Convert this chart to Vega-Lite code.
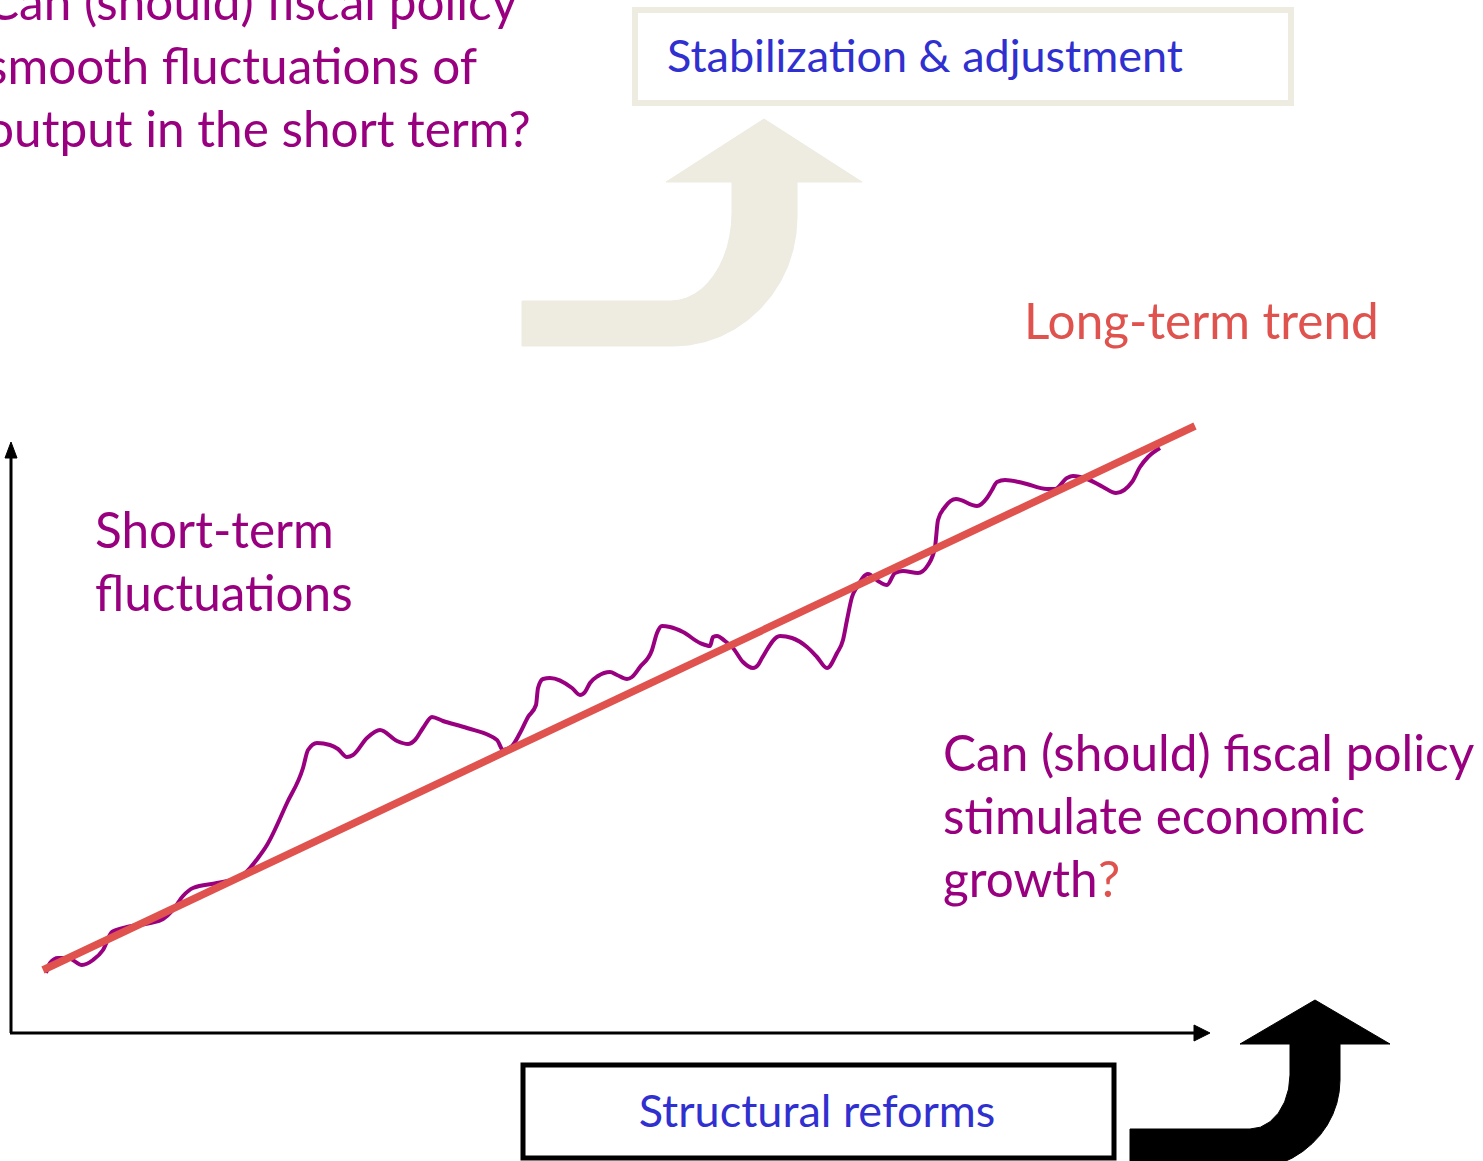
{
  "$schema": "https://vega.github.io/schema/vega-lite/v6.json",
  "width": 1483,
  "height": 1161,
  "autosize": {"type": "none"},
  "padding": 0,
  "background": "white",
  "config": {"view": {"stroke": null}},
  "datasets": {
    "beigeArrow": [
      {"i": 0, "x": 522, "y": 346}, {"i": 1, "x": 522, "y": 301}, {"i": 2, "x": 671, "y": 301},
      {"i": 3, "x": 679.0, "y": 300.2}, {"i": 4, "x": 686.8, "y": 298.0}, {"i": 5, "x": 694.3, "y": 294.3},
      {"i": 6, "x": 701.5, "y": 289.2}, {"i": 7, "x": 708.1, "y": 282.8}, {"i": 8, "x": 714.1, "y": 275.2},
      {"i": 9, "x": 719.4, "y": 266.6}, {"i": 10, "x": 723.8, "y": 257}, {"i": 11, "x": 727.4, "y": 246.7},
      {"i": 12, "x": 729.9, "y": 235.8}, {"i": 13, "x": 731.5, "y": 224.5}, {"i": 14, "x": 732, "y": 213},
      {"i": 15, "x": 732, "y": 182}, {"i": 16, "x": 666, "y": 182}, {"i": 17, "x": 764, "y": 119},
      {"i": 18, "x": 862, "y": 182}, {"i": 19, "x": 797, "y": 182}, {"i": 20, "x": 797, "y": 217},
      {"i": 21, "x": 795.9, "y": 233.8}, {"i": 22, "x": 792.8, "y": 250.4}, {"i": 23, "x": 787.6, "y": 266.4},
      {"i": 24, "x": 780.4, "y": 281.5}, {"i": 25, "x": 771.4, "y": 295.5}, {"i": 26, "x": 760.7, "y": 308.2},
      {"i": 27, "x": 748.5, "y": 319.3}, {"i": 28, "x": 735, "y": 328.7}, {"i": 29, "x": 720.5, "y": 336.2},
      {"i": 30, "x": 705.1, "y": 341.6}, {"i": 31, "x": 689.2, "y": 344.9}, {"i": 32, "x": 673, "y": 346},
      {"i": 33, "x": 522, "y": 346}
    ],
    "blackArrow": [
      {"i": 0, "x": 1130, "y": 1175}, {"i": 1, "x": 1130, "y": 1129}, {"i": 2, "x": 1250, "y": 1129},
      {"i": 3, "x": 1260.4, "y": 1127.2}, {"i": 4, "x": 1270, "y": 1121.8}, {"i": 5, "x": 1278.3, "y": 1113.2},
      {"i": 6, "x": 1284.6, "y": 1102}, {"i": 7, "x": 1288.6, "y": 1089}, {"i": 8, "x": 1290, "y": 1075},
      {"i": 9, "x": 1290, "y": 1044}, {"i": 10, "x": 1240, "y": 1044}, {"i": 11, "x": 1315, "y": 1000},
      {"i": 12, "x": 1390, "y": 1044}, {"i": 13, "x": 1340, "y": 1044}, {"i": 14, "x": 1340, "y": 1080},
      {"i": 15, "x": 1339.2, "y": 1091.7}, {"i": 16, "x": 1336.8, "y": 1103.3}, {"i": 17, "x": 1332.8, "y": 1114.4},
      {"i": 18, "x": 1327.3, "y": 1125}, {"i": 19, "x": 1320.4, "y": 1134.8}, {"i": 20, "x": 1312.2, "y": 1143.6},
      {"i": 21, "x": 1302.8, "y": 1151.4}, {"i": 22, "x": 1292.5, "y": 1157.9}, {"i": 23, "x": 1281.4, "y": 1163.1},
      {"i": 24, "x": 1269.6, "y": 1166.9}, {"i": 25, "x": 1245, "y": 1175}, {"i": 26, "x": 1130, "y": 1175}
    ],
    "yHead": [{"i": 0, "x": 5, "y": 458}, {"i": 1, "x": 11, "y": 442}, {"i": 2, "x": 17, "y": 458}, {"i": 3, "x": 5, "y": 458}],
    "xHead": [{"i": 0, "x": 1194, "y": 1025}, {"i": 1, "x": 1210, "y": 1033}, {"i": 2, "x": 1194, "y": 1041}, {"i": 3, "x": 1194, "y": 1025}],
    "axisLines": [
      {"x": 11, "y": 1033, "x2": 11, "y2": 456},
      {"x": 10, "y": 1033, "x2": 1196, "y2": 1033}
    ],
    "trend": [{"x": 43, "y": 970}, {"x": 1195, "y": 426}],
    "fluct": [
      {"x": 46, "y": 973}, {"x": 50, "y": 963}, {"x": 58, "y": 958}, {"x": 68, "y": 958}, {"x": 82, "y": 965},
      {"x": 93, "y": 960}, {"x": 103, "y": 950}, {"x": 112, "y": 932}, {"x": 127, "y": 927}, {"x": 150, "y": 923},
      {"x": 163, "y": 919}, {"x": 173, "y": 910}, {"x": 183, "y": 896}, {"x": 193, "y": 888}, {"x": 217, "y": 883},
      {"x": 240, "y": 877}, {"x": 250, "y": 868}, {"x": 258, "y": 858}, {"x": 267, "y": 845}, {"x": 287, "y": 803},
      {"x": 303, "y": 768}, {"x": 308, "y": 750}, {"x": 317, "y": 743}, {"x": 330, "y": 745}, {"x": 338, "y": 749},
      {"x": 347, "y": 757}, {"x": 353, "y": 755}, {"x": 367, "y": 738}, {"x": 380, "y": 730}, {"x": 397, "y": 741},
      {"x": 408, "y": 744}, {"x": 415, "y": 740}, {"x": 423, "y": 728}, {"x": 432, "y": 717}, {"x": 443, "y": 721},
      {"x": 467, "y": 728}, {"x": 497, "y": 740}, {"x": 503, "y": 750}, {"x": 512, "y": 746}, {"x": 520, "y": 733},
      {"x": 528, "y": 717}, {"x": 536, "y": 705}, {"x": 538, "y": 688}, {"x": 543, "y": 679}, {"x": 550, "y": 678},
      {"x": 572, "y": 688}, {"x": 580, "y": 695}, {"x": 585, "y": 692}, {"x": 590, "y": 683}, {"x": 598, "y": 676},
      {"x": 610, "y": 672}, {"x": 617, "y": 675}, {"x": 627, "y": 679}, {"x": 632, "y": 677}, {"x": 640, "y": 667},
      {"x": 652, "y": 650}, {"x": 657, "y": 633}, {"x": 662, "y": 626}, {"x": 670, "y": 627}, {"x": 683, "y": 632},
      {"x": 700, "y": 643}, {"x": 710, "y": 646}, {"x": 713, "y": 637}, {"x": 717, "y": 636}, {"x": 725, "y": 641},
      {"x": 733, "y": 648}, {"x": 743, "y": 662}, {"x": 753, "y": 668}, {"x": 758, "y": 665}, {"x": 762, "y": 658},
      {"x": 780, "y": 636}, {"x": 792, "y": 638}, {"x": 807, "y": 647}, {"x": 817, "y": 657}, {"x": 827, "y": 668},
      {"x": 837, "y": 653}, {"x": 843, "y": 640}, {"x": 847, "y": 620}, {"x": 852, "y": 597}, {"x": 857, "y": 587},
      {"x": 868, "y": 574}, {"x": 878, "y": 581}, {"x": 887, "y": 585}, {"x": 895, "y": 573}, {"x": 903, "y": 571},
      {"x": 918, "y": 573}, {"x": 928, "y": 565}, {"x": 935, "y": 547}, {"x": 938, "y": 520}, {"x": 945, "y": 507},
      {"x": 956, "y": 499}, {"x": 977, "y": 506}, {"x": 987, "y": 498}, {"x": 992, "y": 490}, {"x": 997, "y": 482},
      {"x": 1005, "y": 480}, {"x": 1023, "y": 483}, {"x": 1047, "y": 489}, {"x": 1055, "y": 489}, {"x": 1067, "y": 478},
      {"x": 1073, "y": 476}, {"x": 1087, "y": 479}, {"x": 1103, "y": 487}, {"x": 1116, "y": 493}, {"x": 1132, "y": 482},
      {"x": 1140, "y": 467}, {"x": 1148, "y": 457}, {"x": 1160, "y": 448}
    ],
    "beigeBox": [{"x": 635, "y": 10, "x2": 1291, "y2": 103}],
    "blackBox": [{"x": 523, "y": 1065, "x2": 1114, "y2": 1158}],
    "purpleText": [
      {"x": -14, "y": 20, "text": "Can (should) fiscal policy"},
      {"x": -14, "y": 84, "text": "smooth fluctuations of"},
      {"x": -14, "y": 147, "text": "output in the short term?"},
      {"x": 95, "y": 548, "text": "Short-term"},
      {"x": 95, "y": 611, "text": "fluctuations"},
      {"x": 943, "y": 771, "text": "Can (should) fiscal policy"},
      {"x": 943, "y": 834, "text": "stimulate economic"},
      {"x": 943, "y": 897, "text": "growth"}
    ],
    "redText": [
      {"x": 1024, "y": 339, "text": "Long-term trend"},
      {"x": 1098, "y": 897, "text": "?"}
    ],
    "blueLeft": [{"x": 667, "y": 72, "text": "Stabilization & adjustment"}],
    "blueCenter": [{"x": 817, "y": 1127, "text": "Structural reforms"}]
  },
  "encoding": {
    "x": {"field": "x", "type": "quantitative", "scale": {"domain": [0, 1483], "nice": false, "zero": false}, "axis": null},
    "y": {"field": "y", "type": "quantitative", "scale": {"domain": [0, 1161], "nice": false, "zero": false, "reverse": true}, "axis": null}
  },
  "layer": [
    {
      "data": {"name": "beigeArrow"},
      "mark": {"type": "line", "fill": "#EEEBE0", "stroke": "#EEEBE0", "strokeWidth": 1},
      "encoding": {"order": {"field": "i", "type": "quantitative"}}
    },
    {
      "data": {"name": "beigeBox"},
      "mark": {"type": "rect", "fill": "white", "stroke": "#EEEBE0", "strokeWidth": 6},
      "encoding": {"x2": {"field": "x2"}, "y2": {"field": "y2"}}
    },
    {
      "data": {"name": "axisLines"},
      "mark": {"type": "rule", "color": "black", "strokeWidth": 3},
      "encoding": {"x2": {"field": "x2"}, "y2": {"field": "y2"}}
    },
    {
      "data": {"name": "yHead"},
      "mark": {"type": "line", "fill": "black", "stroke": "black", "strokeWidth": 1},
      "encoding": {"order": {"field": "i", "type": "quantitative"}}
    },
    {
      "data": {"name": "xHead"},
      "mark": {"type": "line", "fill": "black", "stroke": "black", "strokeWidth": 1},
      "encoding": {"order": {"field": "i", "type": "quantitative"}}
    },
    {
      "data": {"name": "fluct"},
      "mark": {"type": "line", "color": "#990080", "strokeWidth": 4, "interpolate": "monotone"}
    },
    {
      "data": {"name": "trend"},
      "mark": {"type": "line", "color": "#DF524E", "strokeWidth": 7.5, "strokeCap": "butt"}
    },
    {
      "data": {"name": "blackBox"},
      "mark": {"type": "rect", "fill": "white", "stroke": "black", "strokeWidth": 5},
      "encoding": {"x2": {"field": "x2"}, "y2": {"field": "y2"}}
    },
    {
      "data": {"name": "blackArrow"},
      "mark": {"type": "line", "fill": "black", "stroke": "black", "strokeWidth": 1},
      "encoding": {"order": {"field": "i", "type": "quantitative"}}
    },
    {
      "data": {"name": "purpleText"},
      "mark": {"type": "text", "font": "Lato", "fontSize": 49.5, "color": "#990080", "align": "left", "baseline": "alphabetic"},
      "encoding": {"text": {"field": "text"}}
    },
    {
      "data": {"name": "redText"},
      "mark": {"type": "text", "font": "Lato", "fontSize": 49.5, "color": "#DF524E", "align": "left", "baseline": "alphabetic"},
      "encoding": {"text": {"field": "text"}}
    },
    {
      "data": {"name": "blueLeft"},
      "mark": {"type": "text", "font": "Lato", "fontSize": 45, "color": "#3030D0", "align": "left", "baseline": "alphabetic"},
      "encoding": {"text": {"field": "text"}}
    },
    {
      "data": {"name": "blueCenter"},
      "mark": {"type": "text", "font": "Lato", "fontSize": 45, "color": "#3030D0", "align": "center", "baseline": "alphabetic"},
      "encoding": {"text": {"field": "text"}}
    }
  ]
}
